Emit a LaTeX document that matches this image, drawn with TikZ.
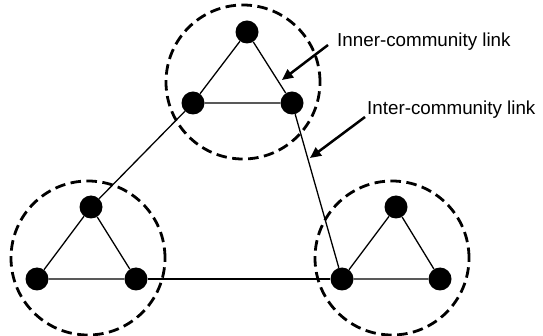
\documentclass[tikz,border=0pt]{standalone}
\usepackage{fontspec}
\setmainfont{Liberation Sans}
\usetikzlibrary{arrows.meta}
\begin{document}
\begin{tikzpicture}[x=1pt,y=-1pt,
  vertex/.style={circle,fill=black,minimum size=23pt,inner sep=0pt},
  community/.style={circle,draw=black,line width=2.8pt,dash pattern=on 10.5pt off 5.5pt,minimum size=154pt,inner sep=0pt},
  link/.style={line width=1.3pt},
  pointer/.style={line width=2.5pt,-{Triangle[length=11pt,width=10pt]}},
  lbl/.style={anchor=west,inner sep=0pt,font=\fontsize{18.8}{22}\selectfont}]
\useasboundingbox (0,0) rectangle (543,336);
% communities
\node[community] (cA) at (243,82) {};
\node[community] (cB) at (88,258) {};
\node[community] (cC) at (392,258) {};
% vertices
\node[vertex] (a1) at (247,32) {};
\node[vertex] (a2) at (193,103) {};
\node[vertex] (a3) at (292,103) {};
\node[vertex] (b1) at (91,207) {};
\node[vertex] (b2) at (37,279) {};
\node[vertex] (b3) at (136,279) {};
\node[vertex] (c1) at (396,207) {};
\node[vertex] (c2) at (342,279) {};
\node[vertex] (c3) at (440,279) {};
% inner links
\draw[link] (a1) -- (a2) -- (a3) -- (a1);
\draw[link] (b1) -- (b2) -- (b3) -- (b1);
\draw[link] (c1) -- (c2) -- (c3) -- (c1);
% inter links
\draw[link] (a2) -- (b1);
\draw[link] (a3) -- (c2);
\draw[link] (b3) -- (c2);
% labels
\node[lbl] (l1) at (337,42) {Inner-community link};
\node[lbl] (l2) at (367,110) {Inter-community link};
\coordinate (t1) at (282,80);
\coordinate (t2) at (310,158);
\coordinate (s1) at (328,45);
\coordinate (s2) at (365,117);
\draw[pointer] (s1) -- (t1);
\draw[pointer] (s2) -- (t2);
\end{tikzpicture}
\end{document}
